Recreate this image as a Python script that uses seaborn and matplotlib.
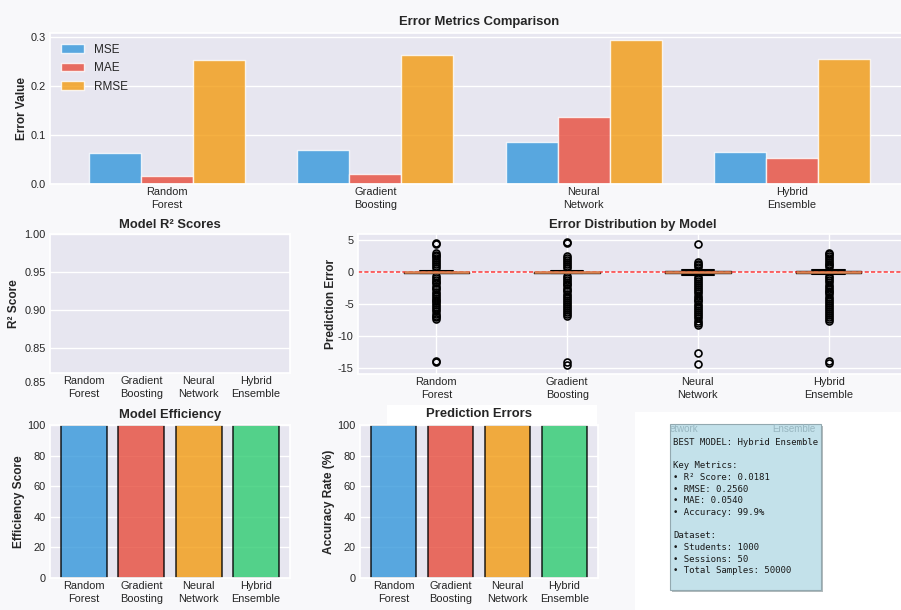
import matplotlib
matplotlib.use("Agg")
import matplotlib.pyplot as plt
import seaborn as sns
import pandas as pd
from matplotlib.patches import Rectangle, Patch

# ---- data -------------------------------------------------------------
models = ["Random\nForest", "Gradient\nBoosting", "Neural\nNetwork", "Hybrid\nEnsemble"]
model_colors = ["#3498db", "#e74c3c", "#f39c12", "#2ecc71"]

metric_names = ["MSE", "MAE", "RMSE"]
mse = [0.064, 0.069, 0.085, 0.0655]
mae = [0.016, 0.020, 0.136, 0.054]
rmse = [0.253, 0.263, 0.294, 0.256]

r2_scores = [0.0142, 0.0157, -0.0236, 0.0181]
efficiency = [99.8, 99.8, 99.7, 99.9]
accuracy = [99.8, 99.8, 99.7, 99.9]

# prediction error distribution summaries
err_median = [-0.05, -0.05, -0.05, -0.03]
err_q1 = [-0.10, -0.10, -0.20, -0.15]
err_q3 = [0.00, 0.02, 0.08, 0.08]
err_whislo = [-0.25, -0.25, -0.55, -0.40]
err_whishi = [0.15, 0.17, 0.35, 0.33]
fliers_rf = [4.5, 4.3, 2.9, 2.6, 2.4, 2.1, 1.9, 1.5, 1.2, 0.9, 0.6, -0.6, -0.9, -1.3,
             -1.6, -1.8, -2.2, -2.5, -2.7, -3.1, -3.4, -3.7, -4.0, -4.3, -4.5, -4.9,
             -5.2, -5.5, -5.8, -6.1, -6.5, -6.8, -7.1, -7.4, -13.8, -14.1]
fliers_gb = [4.7, 4.5, 2.4, 2.1, 1.8, 1.5, 1.3, 0.9, 0.6, -0.6, -0.9, -1.2, -1.6, -1.9,
             -2.1, -2.5, -2.8, -3.0, -3.4, -3.7, -4.1, -4.3, -4.7, -5.0, -5.3, -5.6,
             -5.9, -6.3, -6.6, -6.9, -14.1, -14.5]
fliers_nn = [4.4, 1.6, 1.3, 1.0, 0.7, -0.8, -1.1, -1.4, -1.7, -2.0, -2.4, -2.7, -3.0,
             -3.3, -3.7, -4.0, -4.3, -4.6, -5.0, -5.3, -5.6, -5.9, -6.3, -6.6, -6.9,
             -7.2, -7.6, -7.9, -8.3, -12.7, -14.3]
fliers_he = [3.0, 2.8, 2.5, 2.2, 1.9, 1.6, 1.3, 1.0, 0.7, -0.7, -1.0, -1.3, -1.6, -2.0,
             -2.3, -2.6, -2.9, -3.2, -3.5, -3.9, -4.2, -4.5, -4.8, -5.1, -5.5, -5.8,
             -6.1, -6.4, -6.7, -7.1, -7.4, -7.7, -13.8, -14.2]
fliers = [fliers_rf, fliers_gb, fliers_nn, fliers_he]

summary_text = ("BEST MODEL: Hybrid Ensemble\n\n"
                "Key Metrics:\n"
                "\u2022 R\u00b2 Score: 0.0181\n"
                "\u2022 RMSE: 0.2560\n"
                "\u2022 MAE: 0.0540\n"
                "\u2022 Accuracy: 99.9%\n\n"
                "Dataset:\n"
                "\u2022 Students: 1000\n"
                "\u2022 Sessions: 50\n"
                "\u2022 Total Samples: 50000")

# ---- style ------------------------------------------------------------
sns.set_theme(style="darkgrid", rc={
    "axes.facecolor": "#e7e6f0",
    "figure.facecolor": "#f8f8fa",
    "grid.color": "white",
    "grid.linewidth": 1.0,
    "axes.unicode_minus": False,
    "xtick.color": "#262626",
    "ytick.color": "#262626",
    "xtick.major.size": 0,
    "ytick.major.size": 0,
})
plt.rcParams["font.family"] = ["Liberation Sans", "DejaVu Sans"]

TICK = 7.9
LABEL = 8.6
TITLE = 9.4
LABELPAD = 2

W, H = 901, 610
fig = plt.figure(figsize=(W / 100, H / 100), dpi=100)


def px_axes(left, top, right, bottom):
    return fig.add_axes([left / W, 1 - bottom / H, (right - left) / W, (bottom - top) / H])


def fig_rect(left, top, right, bottom, **kw):
    r = Rectangle((left / W, 1 - bottom / H), (right - left) / W, (bottom - top) / H,
                  transform=fig.transFigure, **kw)
    fig.add_artist(r)
    return r


# white backdrop areas
fig_rect(635, 412, 905, 615, facecolor="white", edgecolor="none", zorder=-2)
fig_rect(387, 405, 597, 425, facecolor="white", edgecolor="none", zorder=-2)


def style_ticks(ax):
    ax.tick_params(axis="x", labelsize=TICK, pad=2.5, length=0)
    ax.tick_params(axis="y", labelsize=TICK, pad=3, length=0)
    for lbl in ax.get_xticklabels():
        lbl.set_linespacing(1.35)


# ---- error metrics comparison --------------------------------------
ax1 = px_axes(50, 33, 909, 184)
metrics_df = pd.DataFrame({
    "Model": models * 3,
    "Metric": [m for m in metric_names for _ in models],
    "Value": mse + mae + rmse,
})
metric_palette = dict(zip(metric_names, model_colors[:3]))
sns.barplot(data=metrics_df, x="Model", y="Value", hue="Metric", palette=metric_palette,
            width=0.75, saturation=1, alpha=0.8, ax=ax1, legend=False)
ax1.set_xlim(-0.5625, 3.5625)
ax1.set_yticks([0.0, 0.1, 0.2, 0.3])
ax1.set_xlabel("")
ax1.set_ylabel("Error Value", fontsize=LABEL, fontweight="bold", labelpad=LABELPAD)
ax1.set_title("Error Metrics Comparison", fontsize=TITLE, fontweight="bold", pad=6)
style_ticks(ax1)
handles = [Patch(facecolor=c, alpha=0.8, label=m) for m, c in metric_palette.items()]
ax1.legend(handles=handles, loc="upper left", fontsize=8.5, frameon=False,
           labelspacing=0.55)

# ---- R2 scores ------------------------------------------------------
ax2 = px_axes(50, 234, 290, 373)
sns.barplot(x=models, y=r2_scores, hue=models, palette=model_colors, saturation=1,
            alpha=0.8, edgecolor="black", linewidth=1.2, ax=ax2, legend=False)
ax2.set_xlim(-0.59, 3.59)
ax2.set_ylim(0.8165, 1.0)
ax2.set_yticks([0.85, 0.90, 0.95, 1.00])
ax2.set_ylabel("R\u00b2 Score", fontsize=LABEL, fontweight="bold", labelpad=LABELPAD + 1)
ax2.set_title("Model R\u00b2 Scores", fontsize=TITLE, fontweight="bold", pad=4)
style_ticks(ax2)
fig.text(46 / W, 1 - 383 / H, "0.85", fontsize=TICK, ha="right", va="center",
         color="#262626")

# ---- error distribution ---------------------------------------------
ax3 = px_axes(358, 234, 907, 374)
box_stats = [dict(med=err_median[i], q1=err_q1[i], q3=err_q3[i],
                  whislo=err_whislo[i], whishi=err_whishi[i], fliers=fliers[i])
             for i in range(len(models))]
ax3.bxp(box_stats, positions=range(len(models)), widths=0.5,
        boxprops=dict(color="black", linewidth=1.0),
        whiskerprops=dict(color="black", linewidth=1.0),
        capprops=dict(color="black", linewidth=1.5),
        medianprops=dict(color="#dd8452", linewidth=1.8),
        flierprops=dict(marker="o", markerfacecolor="none", markeredgecolor="black",
                        markersize=5, markeredgewidth=1.2))
ax3.axhline(0, color="red", linestyle=(0, (2.5, 1.3)), linewidth=1.2, alpha=0.7)
ax3.set_xlim(-0.6, 3.6)
ax3.set_ylim(-15.9, 5.9)
ax3.set_yticks([-15, -10, -5, 0, 5])
ax3.set_xticks(range(len(models)))
ax3.set_xticklabels(models)
ax3.set_ylabel("Prediction Error", fontsize=LABEL, fontweight="bold", labelpad=0.5)
ax3.set_title("Error Distribution by Model", fontsize=TITLE, fontweight="bold", pad=4)
style_ticks(ax3)

# ---- efficiency ----------------------------------------------------
ax4 = px_axes(50, 425, 290, 578)
sns.barplot(x=models, y=efficiency, hue=models, palette=model_colors, saturation=1,
            alpha=0.8, edgecolor="black", linewidth=1.2, ax=ax4, legend=False)
ax4.set_xlim(-0.59, 3.59)
ax4.set_ylim(0, 100)
ax4.set_yticks([0, 20, 40, 60, 80, 100])
ax4.set_ylabel("Efficiency Score", fontsize=LABEL, fontweight="bold", labelpad=1.5)
ax4.set_title("Model Efficiency", fontsize=TITLE, fontweight="bold", pad=5)
style_ticks(ax4)

# ---- accuracy -------------------------------------------------------
ax5 = px_axes(360, 425, 598, 578)
sns.barplot(x=models, y=accuracy, hue=models, palette=model_colors, saturation=1,
            alpha=0.8, edgecolor="black", linewidth=1.2, ax=ax5, legend=False)
ax5.set_xlim(-0.59, 3.59)
ax5.set_ylim(0, 100)
ax5.set_yticks([0, 20, 40, 60, 80, 100])
ax5.set_ylabel("Accuracy Rate (%)", fontsize=LABEL, fontweight="bold", labelpad=1.5)
ax5.set_title("Prediction Errors", fontsize=TITLE, fontweight="bold", pad=6)
style_ticks(ax5)

# ---- summary box ---------------------------------------------------
fig_rect(672, 426, 823, 592, facecolor="#7f8c90", edgecolor="none", alpha=0.6, zorder=1)
fig_rect(670, 424, 821, 590, facecolor="#c3e1ea", edgecolor="#93a9b0",
         linewidth=0.8, zorder=2)
fig.text(670 / W, 1 - 429 / H, "etwork", fontsize=7, color="#98b6c0",
         ha="left", va="center", zorder=3)
fig.text(772 / W, 1 - 429 / H, "Ensemble", fontsize=7, color="#98b6c0",
         ha="left", va="center", zorder=3)
fig.text(673 / W, 1 - 438 / H, summary_text, fontsize=6.5, family="DejaVu Sans Mono",
         color="#1a1a1a", ha="left", va="top", linespacing=1.38, zorder=4)

fig.savefig("out.png", dpi=100, facecolor=fig.get_facecolor())
